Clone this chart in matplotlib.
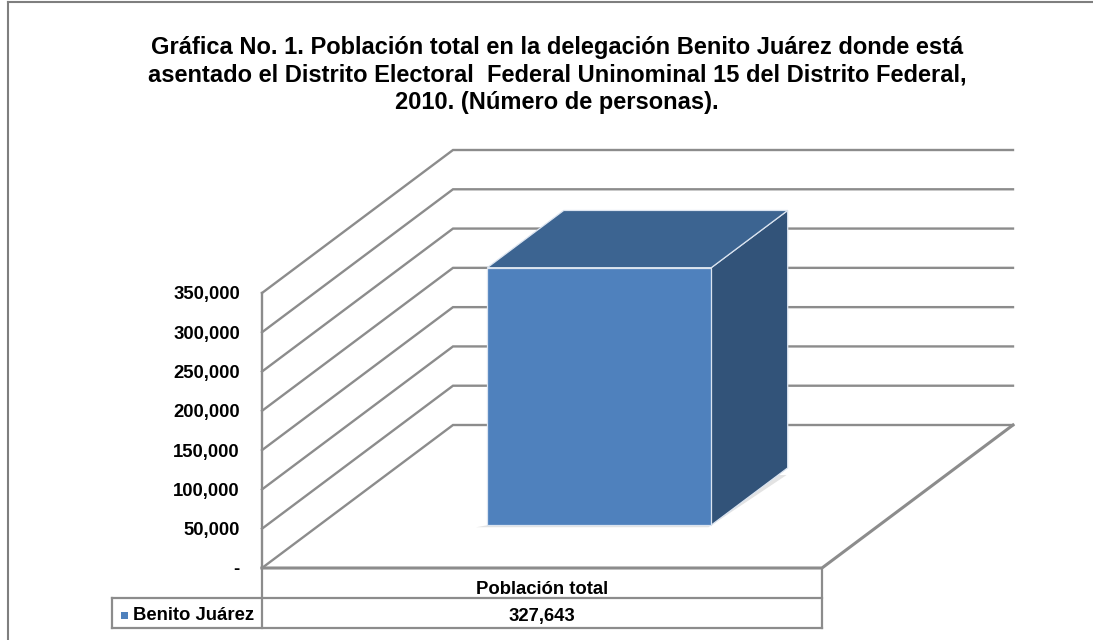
import matplotlib
matplotlib.use("Agg")
import matplotlib.pyplot as plt
from matplotlib.patches import Polygon, Rectangle
from matplotlib.ticker import FuncFormatter

plt.rcParams['font.family'] = ['Liberation Sans', 'DejaVu Sans']

# data
TITLE = ("Gráfica No. 1. Población total en la delegación Benito Juárez donde está\n"
         "asentado el Distrito Electoral  Federal Uninominal 15 del Distrito Federal,\n"
         "2010. (Número de personas).")
CATEGORIES = ['Población total']
SERIES = 'Benito Juárez'
VALUES = [327643]
YTICKS = [0, 50000, 100000, 150000, 200000, 250000, 300000, 350000]

# style
GRID = '#8c8c8c'
FRONT, TOP, SIDE = '#4f81bd', '#3c6491', '#325379'
EDGE = '#dbe4f0'
FS = 13.3
W, H, DPI = 1093, 640, 100
VMAX = YTICKS[-1]
DX = 191 / 560          # full depth, horizontal, in x units
DY = 143 / 275 * VMAX   # full depth, vertical, in value units


def proj(x, v, d):
    # oblique projection: depth d in 0..1 pushes points up and right
    return (x + d * DX, v + d * DY)


fig = plt.figure(figsize=(W / DPI, H / DPI), dpi=DPI)
ax = fig.add_axes([262 / W, 72 / H, 560 / W, 275 / H])
ax.set_xlim(0, len(CATEGORIES))
ax.set_ylim(0, VMAX)
ax.patch.set_alpha(0)
for s in ax.spines.values():
    s.set_visible(False)
ax.set_xticks([])
ax.set_yticks(YTICKS)
ax.yaxis.set_major_formatter(FuncFormatter(lambda v, p: '-' if v == 0 else f'{int(v):,}'))
ax.tick_params(axis='y', length=0, pad=16, labelsize=FS)
for t in ax.get_yticklabels():
    t.set_fontweight('bold')

n = len(CATEGORIES)
lw = 1.7
# walls: left wall diagonals + back wall gridlines
for v in YTICKS:
    pts = [proj(0, v, 0), proj(0, v, 1), proj(n, v, 1)]
    ax.plot(*zip(*pts), color=GRID, lw=lw, clip_on=False, zorder=1, solid_joinstyle='miter')
# front axis line and floor
ax.plot(*zip(proj(0, 0, 0), proj(0, VMAX, 0)), color=GRID, lw=lw, clip_on=False, zorder=1)
floor = [proj(0, 0, 0), proj(n, 0, 0), proj(n, 0, 1)]
ax.plot(*zip(*floor), color=GRID, lw=2.2, clip_on=False, zorder=1, solid_joinstyle='miter')

# bars (gap width 150% -> bar 0.4 wide, 0.4 deep)
bw, d0, d1 = 0.4, 0.3, 0.7
for i, val in enumerate(VALUES):
    x0, x1 = i + (1 - bw) / 2, i + (1 + bw) / 2
    shadow = [proj(x0 - 0.015, 0, d0 - 0.015), proj(x1, 0, d0 - 0.015),
              proj(x1 + 0.015, 0, d1 - 0.05), proj(x1, 0, d1 - 0.05)]
    ax.add_patch(Polygon(shadow, closed=True, fc='#e3e3e3', ec='none', zorder=2, clip_on=False))
    front = [proj(x0, 0, d0), proj(x1, 0, d0), proj(x1, val, d0), proj(x0, val, d0)]
    top = [proj(x0, val, d0), proj(x1, val, d0), proj(x1, val, d1), proj(x0, val, d1)]
    side = [proj(x1, 0, d0), proj(x1, 0, d1), proj(x1, val, d1), proj(x1, val, d0)]
    for poly, c in [(side, SIDE), (top, TOP), (front, FRONT)]:
        ax.add_patch(Polygon(poly, closed=True, fc=c, ec=EDGE, lw=0.9, zorder=3,
                             clip_on=False, joinstyle='miter'))

# data table under the plot
tc = dict(color=GRID, lw=1.6, clip_on=False, transform=ax.transAxes, zorder=1)
r1, r2 = -30 / 275, -60 / 275
xl = -150 / 560
ax.plot([0, 0], [0, r2], **tc)
ax.plot([1, 1], [0, r2], **tc)
ax.plot([xl, 1], [r1, r1], **tc)
ax.plot([xl, 1], [r2, r2], **tc)
ax.plot([xl, xl], [r1, r2], **tc)
y_hdr, y_row = -21 / 275, -48 / 275
for i, cat in enumerate(CATEGORIES):
    ax.text((i + 0.5) / n, y_hdr, cat, transform=ax.transAxes, ha='center', va='center',
            fontsize=FS, fontweight='bold')
    ax.text((i + 0.5) / n, y_row, f'{VALUES[i]:,}', transform=ax.transAxes, ha='center',
            va='center', fontsize=FS, fontweight='bold')
ax.add_patch(Rectangle((-141 / 560, y_row - 2.5 / 275), 7 / 560, 7 / 275, transform=ax.transAxes,
                       fc=FRONT, ec='none', clip_on=False))
ax.text(-129 / 560, y_row, SERIES, transform=ax.transAxes, ha='left', va='center',
        fontsize=FS, fontweight='bold')

# title and outer frame
fig.text(557 / W, 1 - 75 / H, TITLE, ha='center', va='center', fontsize=17, fontweight='bold',
         linespacing=1.27)
fig.add_artist(plt.Line2D([8 / W, 8 / W], [0, 1 - 2 / H], color='#7f7f7f', lw=1.5))
fig.add_artist(plt.Line2D([8 / W, 1], [1 - 2 / H, 1 - 2 / H], color='#7f7f7f', lw=1.5))

fig.savefig('out.png', dpi=DPI)
